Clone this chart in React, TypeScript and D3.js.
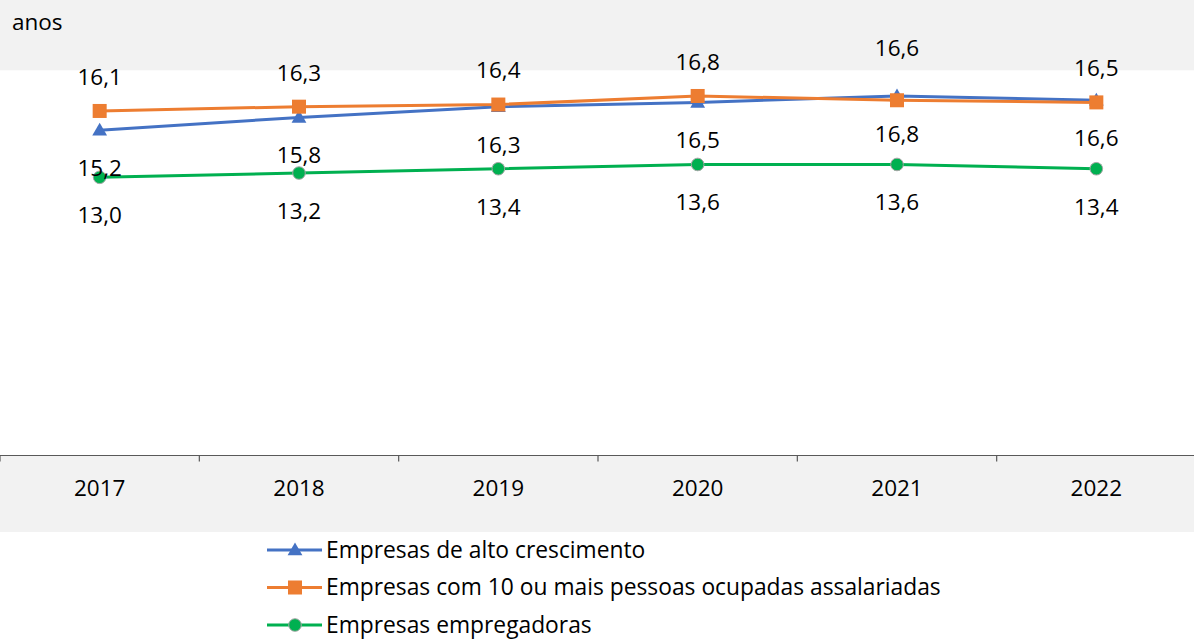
import React from "react";
import * as d3 from "d3";

const years = ["2017", "2018", "2019", "2020", "2021", "2022"];
const altoCrescimento = [15.2, 15.8, 16.3, 16.5, 16.8, 16.6];
const dezOuMais = [16.1, 16.3, 16.4, 16.8, 16.6, 16.5];
const empregadoras = [13.0, 13.2, 13.4, 13.6, 13.6, 13.4];
const seriesNames = [
  "Empresas de alto crescimento",
  "Empresas com 10 ou mais pessoas ocupadas assalariadas",
  "Empresas empregadoras",
];
const unitLabel = "anos";

const W = 1194;
const H = 639;
const FONT = "'Open Sans', sans-serif";
const FS = 22.5;
const LEG_FS = 22.8;

export default function App() {
  const plotTop = 70.3;
  const plotBottom = 455.5;
  const x = d3.scaleBand().domain(years).range([0, 1196]);
  const y = d3.scaleLinear().domain([0, 18]).range([plotBottom, plotTop]);
  const cx = (yr: string) => (x(yr) as number) + x.bandwidth() / 2;

  const line = d3
    .line<number>()
    .x((_, i) => cx(years[i]))
    .y((d) => y(d));

  const series = [
    { name: seriesNames[0], values: altoCrescimento, color: "#4472C4", marker: "triangle", labelPos: "below" },
    { name: seriesNames[1], values: dezOuMais, color: "#ED7D31", marker: "square", labelPos: "above" },
    { name: seriesNames[2], values: empregadoras, color: "#00B050", marker: "circle", labelPos: "below" },
  ];

  const fmt = (v: number) => v.toFixed(1).replace(".", ",");

  const marker = (type: string, color: string, px: number, py: number, key: string) => {
    if (type === "square")
      return <rect key={key} x={px - 7} y={py - 7} width={14} height={14} fill={color} />;
    if (type === "triangle") {
      const tri = d3.symbol().type(d3.symbolTriangle).size(95)();
      return <path key={key} d={tri as string} transform={`translate(${px},${py + 1})`} fill={color} />;
    }
    return <circle key={key} cx={px} cy={py} r={6.3} fill={color} stroke="#A5A5A5" strokeWidth={1} />;
  };

  const ticks = d3.range(years.length + 1).map((i) => i * x.bandwidth() + (x.range()[0] as number));

  return (
    <svg
      width={W}
      height={H}
      style={{ position: "absolute", left: 0, top: 0, fontFamily: FONT }}
    >
      <rect x={0} y={0} width={W} height={H} fill="#ffffff" />
      <rect x={0} y={0} width={W} height={532} fill="#F2F2F2" />
      <rect x={0} y={plotTop} width={W} height={plotBottom - plotTop} fill="#ffffff" />

      <text x={12} y={22} dy="0.35em" fontSize={FS} fill="#000">{unitLabel}</text>

      {/* axis */}
      <line x1={0} x2={W} y1={plotBottom} y2={plotBottom} stroke="#595959" strokeWidth={1.2} />
      {ticks.map((t, i) => (
        <line key={i} x1={t} x2={t} y1={plotBottom} y2={plotBottom + 6} stroke="#595959" strokeWidth={1.2} />
      ))}
      {years.map((yr) => (
        <text key={yr} x={cx(yr)} y={488} dy="0.35em" textAnchor="middle" fontSize={FS} fill="#000">
          {yr}
        </text>
      ))}

      {series.map((s) => (
        <g key={s.name}>
          <path d={line(s.values) as string} fill="none" stroke={s.color} strokeWidth={3} strokeLinejoin="round" />
          {s.values.map((v, i) => marker(s.marker, s.color, cx(years[i]), y(v), `${s.name}-${i}`))}
        </g>
      ))}

      {series.map((s) =>
        s.values.map((v, i) => {
          const lift = s.labelPos === "above" && years[i] === "2021" ? 18 : 0;
          const ly = s.labelPos === "above" ? y(v) - 34 - lift : y(v) + 38;
          return (
            <text
              key={`${s.name}-l-${i}`}
              x={cx(years[i])}
              y={ly}
              dy="0.35em"
              textAnchor="middle"
              fontSize={FS}
              fill="#000"
            >
              {fmt(v)}
            </text>
          );
        })
      )}

      {/* legend */}
      {series.map((s, i) => {
        const ly = 550 + i * 37.5;
        return (
          <g key={`leg-${i}`}>
            <line x1={267} x2={322} y1={ly} y2={ly} stroke={s.color} strokeWidth={3} />
            {marker(s.marker, s.color, 295, ly, `leg-m-${i}`)}
            <text x={326} y={ly} dy="0.35em" fontSize={LEG_FS} fill="#000">
              {s.name}
            </text>
          </g>
        );
      })}
    </svg>
  );
}
